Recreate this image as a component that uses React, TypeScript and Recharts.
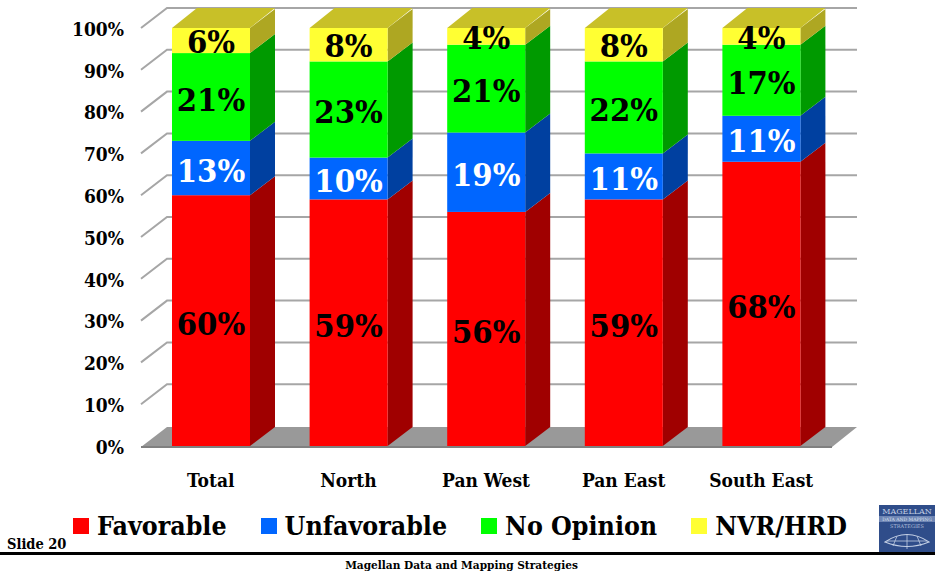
import { Bar, BarChart, CartesianGrid, LabelList, Legend, XAxis, YAxis } from "recharts";

const regions = ["Total", "North", "Pan West", "Pan East", "South East"];
const favorable = [60, 59, 56, 59, 68];
const unfavorable = [13, 10, 19, 11, 11];
const noOpinion = [21, 23, 21, 22, 17];
const nvrHrd = [6, 8, 4, 8, 4];
const yTicks = [0, 10, 20, 30, 40, 50, 60, 70, 80, 90, 100];

const points = regions.map((region, i) => ({
  region,
  favorable: favorable[i],
  unfavorable: unfavorable[i],
  noOpinion: noOpinion[i],
  nvrHrd: nvrHrd[i],
}));

const SERIF = '"DejaVu Serif", serif';
const BAR_DX = 25;
const BAR_DY = 19;
const WALL_DY = 20;

const legendItems = [
  { label: "Favorable", color: "#ff0000" },
  { label: "Unfavorable", color: "#0066ff" },
  { label: "No Opinion", color: "#00ff00" },
  { label: "NVR/HRD", color: "#ffff33" },
];

function barShape(sideColor: string, isTop?: boolean) {
  return (props: any) => {
    const { x, y, width, height, fill } = props;
    const r = x + width;
    return (
      <g>
        <polygon
          points={`${r},${y} ${r + BAR_DX},${y - BAR_DY} ${r + BAR_DX},${y + height - BAR_DY} ${r},${y + height}`}
          fill={sideColor}
        />
        {isTop ? (
          <polygon
            points={`${x},${y} ${x + BAR_DX},${y - BAR_DY - 1} ${r + BAR_DX},${y - BAR_DY - 1} ${r},${y}`}
            fill="#c8c028"
          />
        ) : null}
        <rect x={x} y={y} width={width} height={height} fill={fill} />
      </g>
    );
  };
}

// plot area is a little narrower than the walls, so the ends get nudged out
function gridLine(props: any) {
  const { x1, x2, y1, index } = props;
  if (y1 > 440) {
    return (
      <g key={index}>
        <polygon
          points={`${x1 - 1},${y1 + 1} ${x1 + 25},${y1 - WALL_DY + 1} ${x2 + 27},${y1 - WALL_DY + 1} ${x2 + 2},${y1 + 1}`}
          fill="#999999"
        />
        <line x1={x1 - 1} x2={x2 + 2} y1={y1 + 1} y2={y1 + 1} stroke="#808080" strokeWidth={2} />
      </g>
    );
  }
  return (
    <polyline
      key={index}
      points={`${x1 - 1},${y1} ${x1 + 25},${y1 - WALL_DY} ${x2 + 27},${y1 - WALL_DY}`}
      fill="none"
      stroke="#a6a6a6"
      strokeWidth={2}
    />
  );
}

function LegendRow() {
  return (
    <div style={{ display: "flex", alignItems: "center", fontFamily: SERIF, fontWeight: 700, fontSize: 26.5, fontStretch: "condensed", color: "#000", whiteSpace: "nowrap" }}>
      {legendItems.map((item) => (
        <div key={item.label} style={{ display: "flex", alignItems: "center", marginRight: 34 }}>
          <span style={{ width: 16, height: 16, background: item.color, marginRight: 8 }} />
          {item.label}
        </div>
      ))}
    </div>
  );
}

function Logo() {
  return (
    <svg width={56} height={47} style={{ position: "absolute", left: 879, top: 505 }}>
      <rect width={56} height={47} fill="#2f4d8a" />
      <rect y={11} width={56} height={6} fill="#6f86b5" />
      <text x={28} y={9} textAnchor="middle" fontSize={8} fontFamily={SERIF} fill="#c3cfe4">MAGELLAN</text>
      <text x={28} y={16} textAnchor="middle" fontSize={4.5} fontFamily={SERIF} fill="#dbe2ef">DATA AND MAPPING</text>
      <text x={28} y={23} textAnchor="middle" fontSize={5} fontFamily={SERIF} fill="#aebcd8">STRATEGIES</text>
      <path d="M6 37 Q28 22 50 37 Q28 46 6 37 Z" fill="none" stroke="#c3cfe4" strokeWidth={1.2} />
      <path d="M18 31 L14 41 M28 29 V44 M38 31 L42 41 M8 36 H48" stroke="#c3cfe4" strokeWidth={0.8} />
    </svg>
  );
}

export default function App() {
  const valueLabel = (v: any) => `${v}%`;
  const labelStyle = { fontFamily: SERIF, fontWeight: 700, fontSize: 32.5, fontStretch: "condensed" };
  return (
    <div style={{ position: "absolute", left: 0, top: 0, width: 936, height: 573, background: "#fff", overflow: "hidden" }}>
      <BarChart
        width={936}
        height={573}
        data={points}
        barSize={78}
        margin={{ top: 28, right: 106, bottom: 57, left: 82 }}
      >
        <CartesianGrid vertical={false} horizontal={gridLine} />
        <XAxis
          dataKey="region"
          axisLine={false}
          tickLine={false}
          tickMargin={22}
          height={70}
          tick={{ fill: "#000", fontFamily: SERIF, fontWeight: 700, fontSize: 19, fontStretch: "condensed" } as any}
        />
        <YAxis
          width={60}
          domain={[0, 100]}
          ticks={yTicks}
          tickFormatter={valueLabel}
          axisLine={false}
          tickLine={false}
          tickSize={0}
          tickMargin={18}
          tick={{ fill: "#000", fontFamily: SERIF, fontWeight: 700, fontSize: 19, fontStretch: "condensed", dy: 1 } as any}
        />
        <Legend
          layout="horizontal"
          verticalAlign="middle"
          align="center"
          content={() => <LegendRow />}
          wrapperStyle={{ position: "absolute", left: 73, top: 510, width: 820 }}
        />
        <Bar dataKey="favorable" stackId="a" fill="#ff0000" shape={barShape("#a00000")} isAnimationActive={false}>
          <LabelList dataKey="favorable" position="center" formatter={valueLabel} fill="#000" dy={3} style={labelStyle as any} />
        </Bar>
        <Bar dataKey="unfavorable" stackId="a" fill="#0066ff" shape={barShape("#0040a0")} isAnimationActive={false}>
          <LabelList dataKey="unfavorable" position="center" formatter={valueLabel} fill="#fff" dy={2} style={labelStyle as any} />
        </Bar>
        <Bar dataKey="noOpinion" stackId="a" fill="#00ff00" shape={barShape("#009a00")} isAnimationActive={false}>
          <LabelList dataKey="noOpinion" position="center" formatter={valueLabel} fill="#000" dy={2} style={labelStyle as any} />
        </Bar>
        <Bar dataKey="nvrHrd" stackId="a" fill="#ffff33" shape={barShape("#aea722", true)} isAnimationActive={false}>
          <LabelList dataKey="nvrHrd" position="center" formatter={valueLabel} fill="#000" dy={1} style={labelStyle as any} />
        </Bar>
      </BarChart>
      <div style={{ position: "absolute", left: 7, top: 535, fontFamily: SERIF, fontWeight: 700, fontSize: 14.5, fontStretch: "condensed" }}>Slide 20</div>
      <div style={{ position: "absolute", left: 0, top: 552, width: 935, height: 3, background: "#000" }} />
      <div style={{ position: "absolute", left: 0, width: 923, top: 558, textAlign: "center", fontFamily: SERIF, fontWeight: 700, fontSize: 11.75, fontStretch: "condensed" }}>
        Magellan Data and Mapping Strategies
      </div>
      <Logo />
    </div>
  );
}
